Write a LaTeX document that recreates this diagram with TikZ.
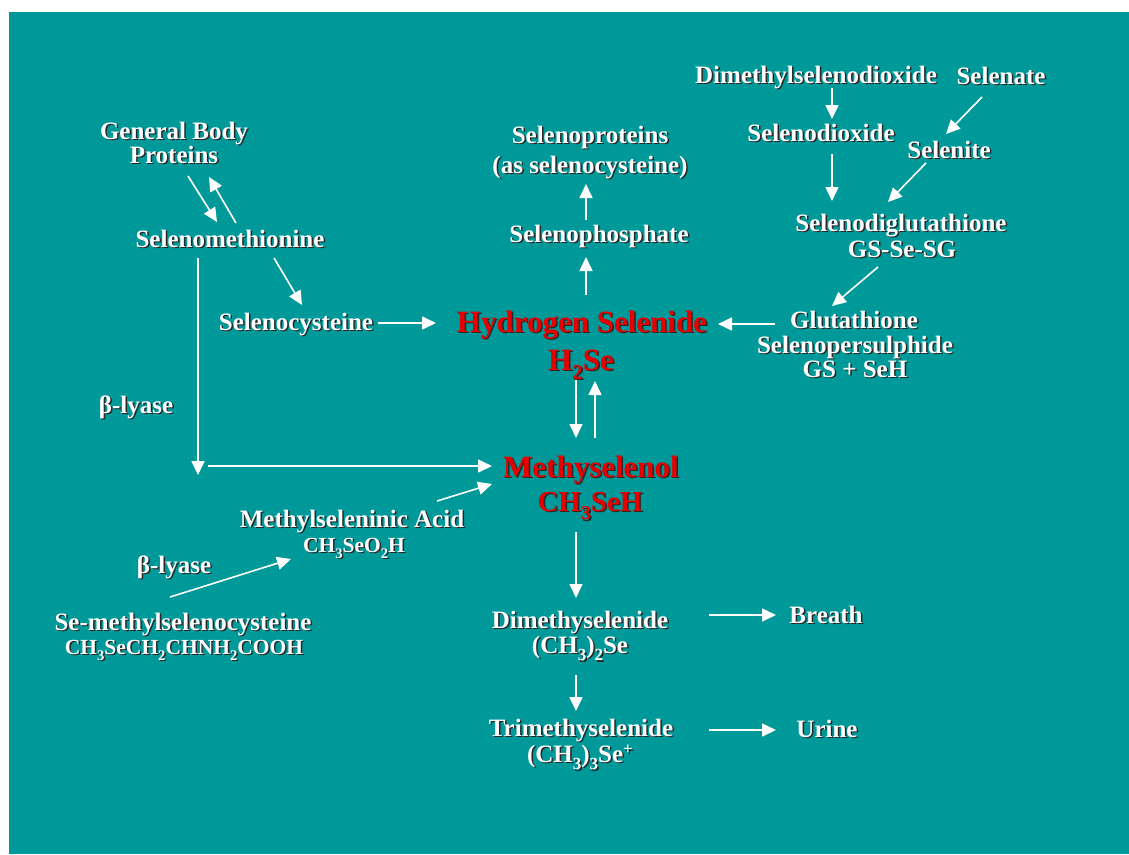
\documentclass[tikz,border=0pt]{standalone}
\usepackage{fontspec}
\setmainfont{Liberation Serif}
\usepackage{graphicx}
\usetikzlibrary{arrows.meta}
\definecolor{bgteal}{RGB}{0,153,153}
\definecolor{shadowc}{RGB}{40,40,40}
\definecolor{selred}{RGB}{230,0,0}
\newcommand\shd[1]{\rlap{\kern1.5pt\raisebox{-1.5pt}{\color{shadowc}#1}}#1}
\newcommand\dn[1]{\raisebox{-0.3em}{\scalebox{0.68}{#1}}}
\newcommand\upp[1]{\raisebox{0.3em}{\scalebox{0.68}{#1}}}
\tikzset{
  lbl/.style={text=white, inner sep=0pt, anchor=base, font=\bfseries\fontsize{25}{28}\selectfont},
  sml/.style={lbl, font=\bfseries\fontsize{21.5}{25}\selectfont},
  redlbl/.style={lbl, text=selred, font=\bfseries\fontsize{31}{36}\selectfont},
  redsml/.style={lbl, text=selred, font=\bfseries\fontsize{29}{34}\selectfont},
  arr/.style={draw=white, line width=1.6pt, -{Triangle[length=14pt,width=13pt]}}
}
\begin{document}
\begin{tikzpicture}[x=1pt,y=-1pt]
\useasboundingbox (0,0) rectangle (1129,854);
\fill[white] (0,0) rectangle (1129,854);
\fill[bgteal] (9,12) rectangle (1129,854);

% left side
\node[lbl] (gbp1) at (174,139) {\shd{General Body}};
\node[lbl] (gbp2) at (174,163) {\shd{Proteins}};
\node[lbl] (selmet) at (230,247) {\shd{Selenomethionine}};
\node[lbl] (selcys) at (296,330) {\shd{Selenocysteine}};
\node[lbl] (blyase1) at (136,413) {\shd{β-lyase}};
\node[lbl] (msa1) at (352,527) {\shd{Methylseleninic Acid}};
\node[sml] (msa2) at (354,552) {\shd{CH\dn{3}SeO\dn{2}H}};
\node[lbl] (blyase2) at (174,573) {\shd{β-lyase}};
\node[lbl] (smsc1) at (183,630) {\shd{Se-methylselenocysteine}};
\node[sml] (smsc2) at (184,654) {\shd{CH\dn{3}SeCH\dn{2}CHNH\dn{2}COOH}};

% centre
\node[lbl] (sp1) at (590,143) {\shd{Selenoproteins}};
\node[lbl] (sp2) at (590,173) {\shd{(as selenocysteine)}};
\node[lbl] (sphos) at (599,242) {\shd{Selenophosphate}};
\node[redlbl] (hs1) at (582,332) {\shd{Hydrogen Selenide}};
\node[redlbl] (hs2) at (581,370) {\shd{H\dn{2}Se}};
\node[redlbl] (ms1) at (591,477) {\shd{Methyselenol}};
\node[redsml] (ms2) at (590,511) {\shd{CH\dn{3}SeH}};
\node[lbl] (dms1) at (580,628) {\shd{Dimethyselenide}};
\node[lbl] (dms2) at (580,653) {\shd{(CH\dn{3})\dn{2}Se}};
\node[lbl] (tms1) at (581,736) {\shd{Trimethyselenide}};
\node[lbl] (tms2) at (580,762) {\shd{(CH\dn{3})\dn{3}Se\upp{+}}};
\node[lbl] (breath) at (826,623) {\shd{Breath}};
\node[lbl] (urine) at (827,737) {\shd{Urine}};

% right side
\node[lbl] (dmsd) at (816,83) {\shd{Dimethylselenodioxide}};
\node[lbl] (selenate) at (1001,84) {\shd{Selenate}};
\node[lbl] (selenodiox) at (821,141) {\shd{Selenodioxide}};
\node[lbl] (selenite) at (949,158) {\shd{Selenite}};
\node[lbl] (sdg1) at (901,231) {\shd{Selenodiglutathione}};
\node[lbl] (sdg2) at (902,257) {\shd{GS-Se-SG}};
\node[lbl] (gsp1) at (854,328) {\shd{Glutathione}};
\node[lbl] (gsp2) at (855,353) {\shd{Selenopersulphide}};
\node[lbl] (gsp3) at (855,377) {\shd{GS + SeH}};

% connector end points
\coordinate (gbpOut) at (188,176);  \coordinate (smIn) at (217,222);
\coordinate (smOut) at (236,223);   \coordinate (gbpIn) at (209,177);
\coordinate (smOut2) at (274,258);  \coordinate (scIn) at (302,305);
\coordinate (smOut3) at (198,258);  \coordinate (corner) at (198,475);
\coordinate (cornerOut) at (208,466); \coordinate (msIn) at (492,466);
\coordinate (msaOut) at (437,501);  \coordinate (msIn2) at (492,484);
\coordinate (smscOut) at (170,597); \coordinate (msaIn) at (291,559);
\coordinate (scOut) at (378,323);   \coordinate (hsInL) at (436,323);
\coordinate (gspOut) at (775,324);  \coordinate (hsInR) at (718,324);
\coordinate (hsOutU) at (586,295);  \coordinate (sphIn) at (586,257);
\coordinate (sphOut) at (586,220);  \coordinate (spIn) at (586,184);
\coordinate (hsOutD) at (576,380);  \coordinate (msInT) at (576,438);
\coordinate (msOutT) at (595,438);  \coordinate (hsInB) at (595,381);
\coordinate (msOutD) at (576,532);  \coordinate (dmsIn) at (576,598);
\coordinate (dmsOut) at (576,675);  \coordinate (tmsIn) at (576,711);
\coordinate (dmsOutR) at (709,615); \coordinate (breathIn) at (776,615);
\coordinate (tmsOutR) at (709,730); \coordinate (urineIn) at (776,730);
\coordinate (dmsdOut) at (832,88);  \coordinate (sdxIn) at (832,119);
\coordinate (selenateOut) at (982,97); \coordinate (seleniteIn) at (946,134);
\coordinate (sdxOut) at (832,154);  \coordinate (sdgIn) at (832,201);
\coordinate (seleniteOut) at (926,163); \coordinate (sdgIn2) at (888,202);
\coordinate (sdgOut) at (878,267);  \coordinate (gspIn) at (832,306);

\draw[arr] (gbpOut) -- (smIn);
\draw[arr] (smOut) -- (gbpIn);
\draw[arr] (smOut2) -- (scIn);
\draw[arr] (smOut3) -- (corner);
\draw[arr] (cornerOut) -- (msIn);
\draw[arr] (msaOut) -- (msIn2);
\draw[arr] (smscOut) -- (msaIn);
\draw[arr] (scOut) -- (hsInL);
\draw[arr] (gspOut) -- (hsInR);
\draw[arr] (hsOutU) -- (sphIn);
\draw[arr] (sphOut) -- (spIn);
\draw[arr] (hsOutD) -- (msInT);
\draw[arr] (msOutT) -- (hsInB);
\draw[arr] (msOutD) -- (dmsIn);
\draw[arr] (dmsOut) -- (tmsIn);
\draw[arr] (dmsOutR) -- (breathIn);
\draw[arr] (tmsOutR) -- (urineIn);
\draw[arr] (dmsdOut) -- (sdxIn);
\draw[arr] (selenateOut) -- (seleniteIn);
\draw[arr] (sdxOut) -- (sdgIn);
\draw[arr] (seleniteOut) -- (sdgIn2);
\draw[arr] (sdgOut) -- (gspIn);
\end{tikzpicture}
\end{document}
